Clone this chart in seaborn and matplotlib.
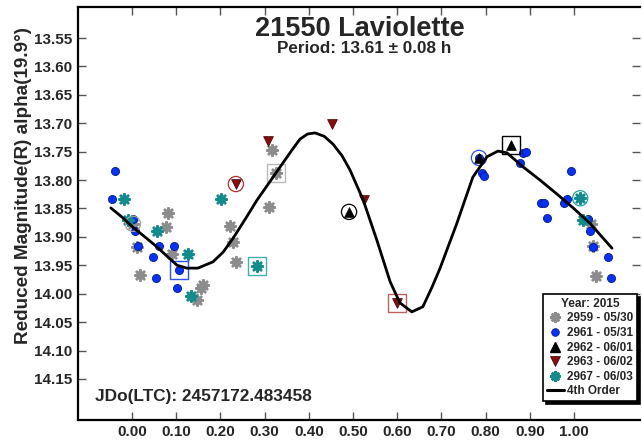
import numpy as np
import pandas as pd
import matplotlib
matplotlib.use("Agg")
import matplotlib.pyplot as plt
import seaborn as sns
from matplotlib.lines import Line2D

# ---------------- data (phase, reduced magnitude) ----------------
s2959_phase = [0.317, 0.326, 0.310, 0.081, 0.077, 0.222, 0.229, 0.011, 0.090,
               0.235, 0.018, 0.161, 0.156, 0.147, 0.002, 1.038, 1.043, 1.050]
s2959_mag = [13.747, 13.788, 13.847, 13.858, 13.883, 13.881, 13.909, 13.918, 13.930,
             13.944, 13.967, 13.985, 13.990, 14.011, 13.877, 13.877, 13.916, 13.969]

s2961_phase = [-0.038, -0.045, 0.002, 0.007, 0.014, 0.061, 0.095, 0.048, 0.106,
               0.054, 0.102, 0.785, 0.792, 0.796, 0.878, 0.885, 0.891, 0.993,
               0.925, 0.932, 0.939, 0.977, 0.984, 1.032, 1.036, 1.043, 1.077, 1.084]
s2961_mag = [13.784, 13.833, 13.869, 13.890, 13.916, 13.916, 13.916, 13.935, 13.958,
             13.972, 13.990, 13.761, 13.788, 13.793, 13.770, 13.752, 13.751, 13.784,
             13.840, 13.840, 13.867, 13.840, 13.833, 13.869, 13.890, 13.918, 13.935, 13.972]

s2962_phase = [0.491, 0.785, 0.857]
s2962_mag = [13.856, 13.761, 13.738]

s2963_phase = [0.235, 0.308, 0.452, 0.525, 0.600]
s2963_mag = [13.807, 13.731, 13.701, 13.835, 14.016]

s2967_phase = [-0.018, -0.009, 0.057, 0.127, 0.201, 0.133, 0.283, 1.014, 1.020]
s2967_mag = [13.833, 13.870, 13.890, 13.930, 13.833, 14.004, 13.951, 13.832, 13.870]

# index of first (circled) and last (boxed) point of each session
first_idx = {"2959": 14, "2961": 11, "2962": 0, "2963": 0, "2967": 7}
last_idx = {"2959": 1, "2961": 8, "2962": 2, "2963": 4, "2967": 6}

# 4th order fit curve
fit_phase = [-0.048, -0.023, 0.002, 0.029, 0.057, 0.079, 0.102, 0.124, 0.149,
             0.183, 0.206, 0.229, 0.256, 0.283, 0.310, 0.335, 0.362, 0.380,
             0.397, 0.414, 0.435, 0.455, 0.475, 0.493, 0.523, 0.554, 0.584,
             0.606, 0.633, 0.658, 0.679, 0.697, 0.735, 0.771, 0.803, 0.828,
             0.848, 0.885, 0.923, 0.962, 0.998, 1.036, 1.086]
fit_mag = [13.849, 13.865, 13.883, 13.900, 13.918, 13.934, 13.950, 13.955, 13.955,
           13.944, 13.927, 13.902, 13.869, 13.835, 13.805, 13.777, 13.747, 13.728,
           13.719, 13.717, 13.723, 13.737, 13.757, 13.782, 13.835, 13.906, 13.979,
           14.016, 14.032, 14.023, 13.988, 13.955, 13.876, 13.795, 13.759, 13.749,
           13.752, 13.777, 13.800, 13.825, 13.849, 13.876, 13.920]

legend_labels = ["2959 - 05/30", "2961 - 05/31", "2962 - 06/01", "2963 - 06/02", "2967 - 06/03"]
x_ticks = [0.0, 0.1, 0.2, 0.3, 0.4, 0.5, 0.6, 0.7, 0.8, 0.9, 1.0]
y_ticks = [13.55, 13.60, 13.65, 13.70, 13.75, 13.80, 13.85, 13.90, 13.95,
           14.00, 14.05, 14.10, 14.15]

# ---------------- style ----------------
sns.set_style("white")
plt.rcParams["font.family"] = ["Liberation Sans", "DejaVu Sans"]
plt.rcParams["font.weight"] = "bold"

W, H = 642, 441
L, R, T, B = 77.7, 640, 7.5, 420
fig = plt.figure(figsize=(W / 100, H / 100), dpi=100)
ax = fig.add_axes([L / W, 1 - B / H, (R - L) / W, (B - T) / H])

sessions = [
    ("2959", s2959_phase, s2959_mag, dict(marker=(8, 2, 0), s=55, color="#8c8c8c", linewidth=1.9),
     "#a0a0a0", "#b8b8b8"),
    ("2961", s2961_phase, s2961_mag, dict(marker="o", s=34, color="#0630ff", edgecolor="#001a8c", linewidth=0.6),
     "#3050ff", "#3050ff"),
    ("2962", s2962_phase, s2962_mag, dict(marker="^", s=50, color="#000000", edgecolor="#000000", linewidth=0.5),
     "#000000", "#000000"),
    ("2963", s2963_phase, s2963_mag, dict(marker="v", s=50, color="#8b0a0a", edgecolor="#3a0000", linewidth=0.5),
     "#b03030", "#c06060"),
    ("2967", s2967_phase, s2967_mag, dict(marker=(8, 2, 0), s=55, color="#108c8c", linewidth=1.9),
     "#20a0a0", "#40b0b0"),
]

for name, ph, mg, kw, ring_c, box_c in sessions:
    df = pd.DataFrame({"phase": ph, "mag": mg})
    sns.scatterplot(data=df, x="phase", y="mag", ax=ax, legend=False, zorder=3, **kw)
    fi, li = first_idx[name], last_idx[name]
    sns.scatterplot(x=[ph[fi]], y=[mg[fi]], ax=ax, marker="o", s=120, color=ring_c,
                    facecolor="none", edgecolor=ring_c, linewidth=0.9, legend=False, zorder=4)
    sns.scatterplot(x=[ph[li]], y=[mg[li]], ax=ax, marker="s", s=170, color=box_c,
                    facecolor="none", edgecolor=box_c, linewidth=1.0, legend=False, zorder=4)

fit_df = pd.DataFrame({"phase": fit_phase, "mag": fit_mag})
sns.lineplot(data=fit_df, x="phase", y="mag", ax=ax, color="black", linewidth=2.0,
             estimator=None, sort=False, zorder=5)

# ---------------- axes ----------------
ax.set_xlim(-0.1229, 1.1493)
ax.set_ylim(14.2223, 13.4963)
ax.set_xticks(x_ticks)
ax.set_xticklabels([f"{v:.2f}" for v in x_ticks])
ax.set_yticks(y_ticks)
ax.set_yticklabels([f"{v:.2f}" for v in y_ticks])
ax.tick_params(axis="both", direction="in", length=6, width=1.0, color="#555555",
               labelsize=11, top=True, right=True, bottom=True, left=True)
ax.tick_params(axis="y", pad=4)
ax.tick_params(axis="x", pad=3.5)
for lab in ax.get_xticklabels() + ax.get_yticklabels():
    lab.set_fontweight("bold")
for side in ["left", "top", "bottom"]:
    ax.spines[side].set_color("black")
    ax.spines[side].set_linewidth(1.6)
ax.spines["right"].set_visible(False)
ax.set_xlabel("")
ax.set_ylabel("Reduced Magnitude(R) alpha(19.9°)", fontsize=13.6, fontweight="bold")
ax.yaxis.set_label_coords((32 - L) / (R - L), (B - 186) / (B - T))
ax.grid(False)

# ---------------- texts ----------------
fig.text(360 / W, 1 - 29.5 / H, "21550 Laviolette", ha="center", va="center",
         fontsize=19.5, fontweight="bold")
fig.text(364 / W, 1 - 48.5 / H, "Period: 13.61 ± 0.08 h", ha="center", va="center",
         fontsize=12.3, fontweight="bold")
fig.text(95 / W, 1 - 397 / H, "JDo(LTC): 2457172.483458", ha="left", va="center",
         fontsize=12.4, fontweight="bold")

# ---------------- legend ----------------
handles = [
    Line2D([], [], ls="none", marker=(8, 2, 0), color="#8c8c8c", markersize=7.5, mew=1.9),
    Line2D([], [], ls="none", marker="o", color="#0630ff", mec="#001a8c", markersize=5.5, mew=0.6),
    Line2D([], [], ls="none", marker="^", color="black", markersize=6.5),
    Line2D([], [], ls="none", marker="v", color="#8b0a0a", mec="#3a0000", markersize=6.5, mew=0.5),
    Line2D([], [], ls="none", marker=(8, 2, 0), color="#108c8c", markersize=7.5, mew=1.9),
    Line2D([], [], color="black", linewidth=2.2),
]
labels = legend_labels + ["4th Order"]
leg = ax.legend(handles, labels, title="Year: 2015", loc="lower right",
                bbox_to_anchor=((637 - L) / (R - L), (B - 401) / (B - T)),
                borderaxespad=0, frameon=True,
                fancybox=False, shadow={"color": "black", "alpha": 1.0},
                prop={"size": 8.5, "weight": "bold"}, handlelength=1.45,
                handletextpad=0.3, borderpad=0.3, labelspacing=0.22)
leg.get_title().set_fontweight("bold")
leg.get_title().set_fontsize(8.5)
leg.get_frame().set_edgecolor("black")
leg.get_frame().set_linewidth(1.2)
leg.set_zorder(10)

fig.savefig("out.png", dpi=100)
